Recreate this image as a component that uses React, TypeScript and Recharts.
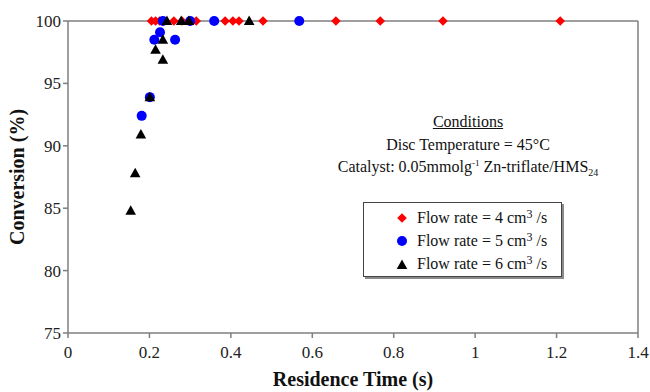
import React from "react";
import {
  ScatterChart,
  Scatter,
  XAxis,
  YAxis,
  ReferenceLine,
  Legend,
} from "recharts";

// residence time (s) and conversion (%) for each flow rate
const flow4Time = [0.205, 0.215, 0.225, 0.26, 0.28, 0.3, 0.315, 0.386, 0.405, 0.42, 0.479, 0.658, 0.767, 0.921, 1.209];
const flow4Conv = [100, 100, 100, 100, 100, 100, 100, 100, 100, 100, 100, 100, 100, 100, 100];

const flow5Time = [0.181, 0.201, 0.212, 0.226, 0.233, 0.263, 0.3, 0.359, 0.568];
const flow5Conv = [92.4, 93.9, 98.5, 99.1, 100, 98.5, 100, 100, 100];

const flow6Time = [0.154, 0.165, 0.179, 0.201, 0.215, 0.233, 0.233, 0.243, 0.278, 0.297, 0.445];
const flow6Conv = [84.8, 87.8, 90.9, 93.9, 97.7, 98.5, 96.9, 100, 100, 100, 100];

const xTicks = [0, 0.2, 0.4, 0.6, 0.8, 1, 1.2, 1.4];
const yTicks = [75, 80, 85, 90, 95, 100];

const seriesNames = [
  "Flow rate = 4 cm3 /s",
  "Flow rate = 5 cm3 /s",
  "Flow rate = 6 cm3 /s",
];

const toPoints = (xs: number[], ys: number[]) => xs.map((x, i) => ({ x, y: ys[i] }));

const flow4 = toPoints(flow4Time, flow4Conv);
const flow5 = toPoints(flow5Time, flow5Conv);
const flow6 = toPoints(flow6Time, flow6Conv);

const SERIF = "'Liberation Serif', 'Times New Roman', serif";
const AXIS = "#7f7f7f";

const Diamond = ({ cx, cy, fill }: any) => (
  <path d={`M${cx},${cy - 4.8}L${cx + 4.8},${cy}L${cx},${cy + 4.8}L${cx - 4.8},${cy}Z`} fill={fill} />
);
const Dot = ({ cx, cy, fill }: any) => <circle cx={cx} cy={cy} r={5} fill={fill} />;
const Tri = ({ cx, cy, fill }: any) => (
  <path d={`M${cx},${cy - 5.5}L${cx + 5.3},${cy + 4}L${cx - 5.3},${cy + 4}Z`} fill={fill} />
);

const markers = [
  { color: "#ff0000", shape: "diamond" },
  { color: "#0000ff", shape: "circle" },
  { color: "#000000", shape: "triangle" },
];

const LegendMarker = ({ shape, color }: { shape: string; color: string }) => (
  <svg width={14} height={14} style={{ display: "block" }}>
    {shape === "diamond" && <Diamond cx={7} cy={7} fill={color} />}
    {shape === "circle" && <Dot cx={7} cy={7} fill={color} />}
    {shape === "triangle" && <Tri cx={7} cy={8} fill={color} />}
  </svg>
);

const renderLegend = () => (
  <div
    style={{
      width: 197,
      height: 70,
      border: "1px solid #444",
      boxShadow: "2px 2px 0 #8a8a8a",
      background: "#fff",
      paddingTop: 3,
      boxSizing: "content-box",
      fontFamily: SERIF,
      fontSize: 16,
      color: "#111",
    }}
  >
    {seriesNames.map((name, i) => {
      const [pre, post] = name.split("cm3");
      return (
        <div key={name} style={{ display: "flex", alignItems: "center", height: 23, lineHeight: "23px" }}>
          <div style={{ width: 45, display: "flex", justifyContent: "flex-end" }}>
            <div style={{ width: 14 }}>
              <LegendMarker shape={markers[i].shape} color={markers[i].color} />
            </div>
          </div>
          <div style={{ marginLeft: 8, whiteSpace: "nowrap" }}>
            {pre}cm<sup style={{ fontSize: 12, lineHeight: 0, verticalAlign: "5px" }}>3</sup>
            {post}
          </div>
        </div>
      );
    })}
  </div>
);

const tickStyle = { fill: "#222", fontSize: 17, style: { fontFamily: SERIF } };

const App: React.FC = () => {
  return (
    <div
      style={{
        position: "absolute",
        left: 0,
        top: 0,
        width: 650,
        height: 392,
        background: "#fff",
        fontFamily: SERIF,
      }}
    >
      <ScatterChart
        width={650}
        height={392}
        margin={{ top: 21, right: 12, left: 0, bottom: 0 }}
        style={{ fontFamily: SERIF }}
      >
        <XAxis
          type="number"
          dataKey="x"
          domain={[0, 1.4]}
          ticks={xTicks}
          tickFormatter={(v) => String(v)}
          height={59}
          stroke={AXIS}
          strokeWidth={1.5}
          tickSize={5}
          tickMargin={8}
          tick={tickStyle}
          label={{
            content: () => (
              <text
                x={353}
                y={386}
                textAnchor="middle"
                style={{ fontFamily: SERIF, fontWeight: "bold", fontSize: 20 }}
                fill="#111"
              >
                Residence Time (s)
              </text>
            ),
          }}
        />
        <YAxis
          type="number"
          dataKey="y"
          domain={[75, 100]}
          ticks={yTicks}
          width={68}
          stroke={AXIS}
          strokeWidth={1.5}
          tickSize={5}
          tickMargin={2}
          tick={tickStyle}
          label={{
            content: () => (
              <text
                x={24}
                y={177}
                transform="rotate(-90 24 177)"
                textAnchor="middle"
                style={{ fontFamily: SERIF, fontWeight: "bold", fontSize: 20 }}
                fill="#111"
              >
                Conversion (%)
              </text>
            ),
          }}
        />
        <ReferenceLine y={100} stroke={AXIS} strokeWidth={1.5} />
        <ReferenceLine x={1.4} stroke={AXIS} strokeWidth={1.5} />
        <Legend
          layout="vertical"
          align="center"
          verticalAlign="middle"
          content={renderLegend}
          wrapperStyle={{ left: 363, top: 202, width: 200, height: 75 }}
        />
        <Scatter name={seriesNames[0]} data={flow4} fill="#ff0000" shape={Diamond} isAnimationActive={false} />
        <Scatter name={seriesNames[1]} data={flow5} fill="#0000ff" shape={Dot} isAnimationActive={false} />
        <Scatter name={seriesNames[2]} data={flow6} fill="#000000" shape={Tri} isAnimationActive={false} />
      </ScatterChart>
      <div
        style={{
          position: "absolute",
          left: 318,
          top: 111,
          width: 300,
          textAlign: "center",
          fontSize: 16,
          lineHeight: "22.5px",
          color: "#111",
        }}
      >
        <div style={{ textDecoration: "underline" }}>Conditions</div>
        <div>Disc Temperature = 45°C</div>
        <div>
          Catalyst: 0.05mmolg<sup style={{ fontSize: 9, lineHeight: 0 }}>-1</sup> Zn-triflate/HMS
          <sub style={{ fontSize: 10, lineHeight: 0 }}>24</sub>
        </div>
      </div>
    </div>
  );
};

export default App;
